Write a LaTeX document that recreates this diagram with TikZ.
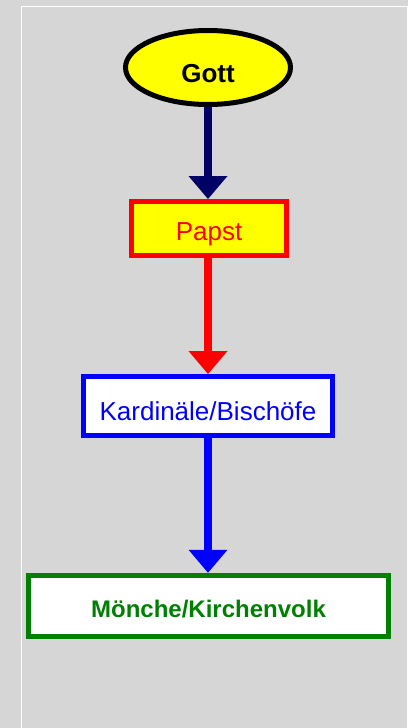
\documentclass[tikz,border=0pt]{standalone}
\usepackage{fontspec}
\setmainfont{Liberation Sans}
\definecolor{bggray}{HTML}{D6D6D6}
\definecolor{navy}{HTML}{000066}
\definecolor{popered}{HTML}{FF0000}
\definecolor{cardblue}{HTML}{0000FF}
\definecolor{folkgreen}{HTML}{008000}
\definecolor{godyellow}{HTML}{FFFF00}
\usepackage{tikz}
\usetikzlibrary{shapes.geometric,arrows.meta,positioning}

\tikzset{
  rankbox/.style={rectangle,line width=5pt,inner sep=0pt,text depth=0pt},
  flowarrow/.style={line width=7.5pt,-{Triangle[length=23pt,width=39pt,line width=0pt]}}
}

\begin{document}
\begin{tikzpicture}[x=1pt,y=-1pt]
\fill[bggray] (0,0) rectangle (408,728);
\useasboundingbox (0,0) rectangle (408,728);
\draw[white,line width=1.5pt] (21.5,728) |- (407.5,6.5) -- (407.5,728);
\node[ellipse,draw=black,fill=godyellow,line width=5pt,inner sep=0pt,minimum width=165pt,minimum height=74pt,text height=30.5pt,text depth=0pt,font=\fontsize{26}{30}\selectfont\bfseries] (gott) at (208,67.5) {Gott\hspace{5pt}};
\node[rankbox,draw=popered,fill=godyellow,text=popered,minimum width=155pt,minimum height=54pt,text height=23.5pt,font=\fontsize{26}{30}\selectfont] (papst) at (209,228.5) {Papst\hspace{13pt}};
\node[rankbox,draw=cardblue,fill=white,text=cardblue,minimum width=249pt,minimum height=59pt,text height=29pt,font=\fontsize{26}{30}\selectfont] (kardinal) at (208,406) {Kardinäle/Bischöfe};
\node[rankbox,line width=5.5pt,draw=folkgreen,fill=white,text=folkgreen,minimum width=360pt,minimum height=61pt,text height=22.5pt,font=\fontsize{24}{28}\selectfont\bfseries] (volk) at (208.5,606) {Mönche/Kirchenvolk};
\draw[flowarrow,navy] (gott.south) -- (gott.south |- papst.north);
\draw[flowarrow,popered] (papst.south -| gott.south) -- (gott.south |- kardinal.north);
\draw[flowarrow,cardblue] (kardinal.south -| gott.south) -- (gott.south |- volk.north);
\end{tikzpicture}
\end{document}
